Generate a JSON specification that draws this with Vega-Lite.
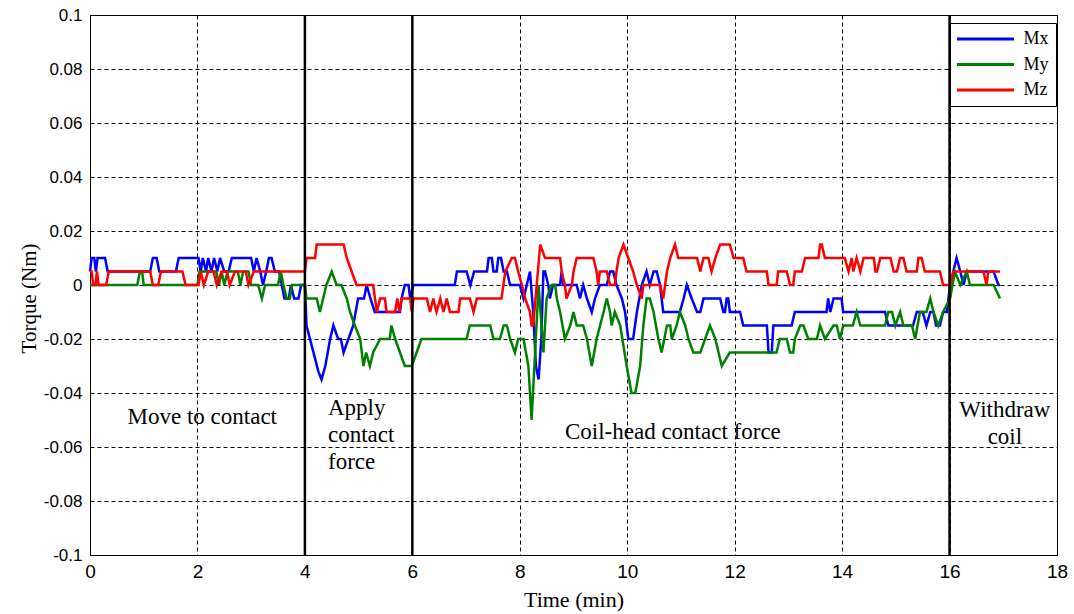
{
  "$schema": "https://vega.github.io/schema/vega-lite/v6.json",
  "width": 967,
  "height": 540,
  "autosize": {"type": "none"},
  "padding": {"left": 90, "top": 15, "right": 17, "bottom": 59},
  "background": "white",
  "config": {
    "view": {"stroke": "black", "strokeWidth": 1},
    "axis": {
      "grid": true,
      "gridColor": "black",
      "gridDash": [4, 3],
      "gridOpacity": 1,
      "gridWidth": 1,
      "domain": false,
      "ticks": false,
      "labelColor": "black",
      "labelOverlap": false,
      "labelFlush": false,
      "titleFont": "Liberation Serif",
      "titleFontWeight": "normal",
      "titleColor": "black"
    }
  },
  "layer": [
    {
      "data": {
        "values": [
          {"t":0,"v":0.005,"s":"Mx"},{"t":0.03,"v":0.01,"s":"Mx"},{"t":0.08,"v":0.01,"s":"Mx"},{"t":0.11,"v":0.005,"s":"Mx"},{"t":0.14,"v":0.01,"s":"Mx"},{"t":0.28,"v":0.01,"s":"Mx"},{"t":0.33,"v":0.005,"s":"Mx"},{"t":1.12,"v":0.005,"s":"Mx"},{"t":1.17,"v":0.01,"s":"Mx"},{"t":1.24,"v":0.01,"s":"Mx"},{"t":1.29,"v":0.005,"s":"Mx"},{"t":1.6,"v":0.005,"s":"Mx"},{"t":1.65,"v":0.01,"s":"Mx"},{"t":2.02,"v":0.01,"s":"Mx"},{"t":2.06,"v":0.005,"s":"Mx"},{"t":2.1,"v":0.01,"s":"Mx"},{"t":2.16,"v":0.005,"s":"Mx"},{"t":2.2,"v":0.01,"s":"Mx"},{"t":2.26,"v":0.005,"s":"Mx"},{"t":2.31,"v":0.01,"s":"Mx"},{"t":2.37,"v":0.005,"s":"Mx"},{"t":2.42,"v":0.01,"s":"Mx"},{"t":2.5,"v":0.005,"s":"Mx"},{"t":2.58,"v":0.005,"s":"Mx"},{"t":2.64,"v":0.01,"s":"Mx"},{"t":3.0,"v":0.01,"s":"Mx"},{"t":3.05,"v":0.005,"s":"Mx"},{"t":3.1,"v":0.01,"s":"Mx"},{"t":3.17,"v":0.005,"s":"Mx"},{"t":3.22,"v":0.0,"s":"Mx"},{"t":3.28,"v":0.005,"s":"Mx"},{"t":3.33,"v":0.01,"s":"Mx"},{"t":3.38,"v":0.01,"s":"Mx"},{"t":3.44,"v":0.005,"s":"Mx"},{"t":3.52,"v":0.005,"s":"Mx"},{"t":3.57,"v":0.0,"s":"Mx"},{"t":3.62,"v":-0.005,"s":"Mx"},{"t":3.7,"v":-0.005,"s":"Mx"},{"t":3.74,"v":0.0,"s":"Mx"},{"t":3.8,"v":-0.005,"s":"Mx"},{"t":3.88,"v":-0.005,"s":"Mx"},{"t":3.93,"v":0.0,"s":"Mx"},{"t":4.0,"v":0.0,"s":"Mx"},{"t":4.03,"v":-0.015,"s":"Mx"},{"t":4.16,"v":-0.025,"s":"Mx"},{"t":4.25,"v":-0.032,"s":"Mx"},{"t":4.31,"v":-0.035,"s":"Mx"},{"t":4.38,"v":-0.03,"s":"Mx"},{"t":4.47,"v":-0.02,"s":"Mx"},{"t":4.53,"v":-0.015,"s":"Mx"},{"t":4.62,"v":-0.02,"s":"Mx"},{"t":4.67,"v":-0.02,"s":"Mx"},{"t":4.72,"v":-0.025,"s":"Mx"},{"t":4.81,"v":-0.02,"s":"Mx"},{"t":4.9,"v":-0.015,"s":"Mx"},{"t":4.99,"v":-0.005,"s":"Mx"},{"t":5.1,"v":-0.005,"s":"Mx"},{"t":5.15,"v":0.0,"s":"Mx"},{"t":5.22,"v":-0.005,"s":"Mx"},{"t":5.3,"v":-0.01,"s":"Mx"},{"t":5.77,"v":-0.01,"s":"Mx"},{"t":5.8,"v":-0.005,"s":"Mx"},{"t":5.86,"v":0.0,"s":"Mx"},{"t":5.93,"v":0.0,"s":"Mx"},{"t":5.96,"v":-0.005,"s":"Mx"},{"t":6.02,"v":0.0,"s":"Mx"},{"t":6.79,"v":0.0,"s":"Mx"},{"t":6.83,"v":0.005,"s":"Mx"},{"t":7.01,"v":0.005,"s":"Mx"},{"t":7.08,"v":0.0,"s":"Mx"},{"t":7.15,"v":0.005,"s":"Mx"},{"t":7.39,"v":0.005,"s":"Mx"},{"t":7.42,"v":0.01,"s":"Mx"},{"t":7.48,"v":0.01,"s":"Mx"},{"t":7.51,"v":0.005,"s":"Mx"},{"t":7.57,"v":0.005,"s":"Mx"},{"t":7.6,"v":0.01,"s":"Mx"},{"t":7.65,"v":0.01,"s":"Mx"},{"t":7.7,"v":0.005,"s":"Mx"},{"t":7.76,"v":0.005,"s":"Mx"},{"t":7.82,"v":0.0,"s":"Mx"},{"t":8.0,"v":0.0,"s":"Mx"},{"t":8.07,"v":-0.005,"s":"Mx"},{"t":8.13,"v":0.0,"s":"Mx"},{"t":8.19,"v":0.005,"s":"Mx"},{"t":8.25,"v":-0.01,"s":"Mx"},{"t":8.3,"v":-0.03,"s":"Mx"},{"t":8.35,"v":-0.035,"s":"Mx"},{"t":8.4,"v":-0.02,"s":"Mx"},{"t":8.44,"v":0.005,"s":"Mx"},{"t":8.47,"v":0.005,"s":"Mx"},{"t":8.53,"v":0.0,"s":"Mx"},{"t":8.56,"v":-0.005,"s":"Mx"},{"t":8.62,"v":0.0,"s":"Mx"},{"t":8.75,"v":0.0,"s":"Mx"},{"t":8.78,"v":0.005,"s":"Mx"},{"t":8.81,"v":0.0,"s":"Mx"},{"t":9.06,"v":0.0,"s":"Mx"},{"t":9.12,"v":-0.005,"s":"Mx"},{"t":9.18,"v":0.0,"s":"Mx"},{"t":9.25,"v":-0.005,"s":"Mx"},{"t":9.34,"v":-0.01,"s":"Mx"},{"t":9.4,"v":-0.005,"s":"Mx"},{"t":9.49,"v":0.0,"s":"Mx"},{"t":9.62,"v":0.0,"s":"Mx"},{"t":9.68,"v":0.005,"s":"Mx"},{"t":9.74,"v":0.005,"s":"Mx"},{"t":9.8,"v":0.0,"s":"Mx"},{"t":9.9,"v":-0.005,"s":"Mx"},{"t":9.96,"v":-0.01,"s":"Mx"},{"t":10.02,"v":-0.02,"s":"Mx"},{"t":10.11,"v":-0.02,"s":"Mx"},{"t":10.18,"v":-0.01,"s":"Mx"},{"t":10.27,"v":0.0,"s":"Mx"},{"t":10.36,"v":0.005,"s":"Mx"},{"t":10.42,"v":0.0,"s":"Mx"},{"t":10.49,"v":0.005,"s":"Mx"},{"t":10.55,"v":0.005,"s":"Mx"},{"t":10.61,"v":0.0,"s":"Mx"},{"t":10.64,"v":-0.005,"s":"Mx"},{"t":10.67,"v":-0.01,"s":"Mx"},{"t":10.98,"v":-0.01,"s":"Mx"},{"t":11.05,"v":-0.005,"s":"Mx"},{"t":11.11,"v":0.0,"s":"Mx"},{"t":11.2,"v":-0.005,"s":"Mx"},{"t":11.3,"v":-0.01,"s":"Mx"},{"t":11.36,"v":-0.01,"s":"Mx"},{"t":11.42,"v":-0.005,"s":"Mx"},{"t":11.73,"v":-0.005,"s":"Mx"},{"t":11.79,"v":-0.01,"s":"Mx"},{"t":11.82,"v":-0.01,"s":"Mx"},{"t":11.85,"v":-0.005,"s":"Mx"},{"t":11.88,"v":-0.005,"s":"Mx"},{"t":11.91,"v":-0.01,"s":"Mx"},{"t":12.1,"v":-0.01,"s":"Mx"},{"t":12.16,"v":-0.015,"s":"Mx"},{"t":12.6,"v":-0.015,"s":"Mx"},{"t":12.63,"v":-0.025,"s":"Mx"},{"t":12.69,"v":-0.025,"s":"Mx"},{"t":12.72,"v":-0.015,"s":"Mx"},{"t":13.06,"v":-0.015,"s":"Mx"},{"t":13.12,"v":-0.01,"s":"Mx"},{"t":13.71,"v":-0.01,"s":"Mx"},{"t":13.74,"v":-0.005,"s":"Mx"},{"t":13.78,"v":-0.01,"s":"Mx"},{"t":13.84,"v":-0.005,"s":"Mx"},{"t":13.99,"v":-0.005,"s":"Mx"},{"t":14.02,"v":-0.01,"s":"Mx"},{"t":14.8,"v":-0.01,"s":"Mx"},{"t":14.86,"v":-0.015,"s":"Mx"},{"t":15.32,"v":-0.015,"s":"Mx"},{"t":15.39,"v":-0.01,"s":"Mx"},{"t":15.5,"v":-0.01,"s":"Mx"},{"t":15.57,"v":-0.015,"s":"Mx"},{"t":15.64,"v":-0.01,"s":"Mx"},{"t":15.7,"v":-0.01,"s":"Mx"},{"t":15.75,"v":-0.015,"s":"Mx"},{"t":15.82,"v":-0.015,"s":"Mx"},{"t":15.88,"v":-0.01,"s":"Mx"},{"t":15.95,"v":-0.01,"s":"Mx"},{"t":15.98,"v":-0.005,"s":"Mx"},{"t":16.01,"v":0.0,"s":"Mx"},{"t":16.07,"v":0.005,"s":"Mx"},{"t":16.13,"v":0.01,"s":"Mx"},{"t":16.2,"v":0.005,"s":"Mx"},{"t":16.26,"v":0.0,"s":"Mx"},{"t":16.32,"v":0.005,"s":"Mx"},{"t":16.82,"v":0.005,"s":"Mx"},{"t":16.91,"v":0.0,"s":"Mx"},{"t":16.94,"v":0.0,"s":"Mx"},

          {"t":0,"v":0.0,"s":"My"},{"t":0.88,"v":0.0,"s":"My"},{"t":0.93,"v":0.005,"s":"My"},{"t":0.97,"v":0.005,"s":"My"},{"t":1.0,"v":0.0,"s":"My"},{"t":2.0,"v":0.0,"s":"My"},{"t":2.04,"v":0.005,"s":"My"},{"t":2.35,"v":0.005,"s":"My"},{"t":2.4,"v":0.0,"s":"My"},{"t":2.45,"v":0.005,"s":"My"},{"t":2.5,"v":0.0,"s":"My"},{"t":2.56,"v":0.005,"s":"My"},{"t":2.75,"v":0.005,"s":"My"},{"t":2.8,"v":0.0,"s":"My"},{"t":2.85,"v":0.005,"s":"My"},{"t":2.95,"v":0.005,"s":"My"},{"t":3.0,"v":0.0,"s":"My"},{"t":3.13,"v":0.0,"s":"My"},{"t":3.2,"v":-0.005,"s":"My"},{"t":3.26,"v":0.0,"s":"My"},{"t":3.5,"v":0.0,"s":"My"},{"t":3.55,"v":0.005,"s":"My"},{"t":3.6,"v":0.0,"s":"My"},{"t":3.66,"v":-0.005,"s":"My"},{"t":3.72,"v":-0.005,"s":"My"},{"t":3.76,"v":0.0,"s":"My"},{"t":4.0,"v":0.0,"s":"My"},{"t":4.03,"v":-0.005,"s":"My"},{"t":4.22,"v":-0.005,"s":"My"},{"t":4.28,"v":-0.01,"s":"My"},{"t":4.34,"v":-0.005,"s":"My"},{"t":4.4,"v":0.0,"s":"My"},{"t":4.5,"v":0.005,"s":"My"},{"t":4.59,"v":0.0,"s":"My"},{"t":4.68,"v":0.0,"s":"My"},{"t":4.78,"v":-0.005,"s":"My"},{"t":4.84,"v":-0.01,"s":"My"},{"t":4.93,"v":-0.015,"s":"My"},{"t":5.03,"v":-0.02,"s":"My"},{"t":5.09,"v":-0.03,"s":"My"},{"t":5.14,"v":-0.025,"s":"My"},{"t":5.21,"v":-0.03,"s":"My"},{"t":5.27,"v":-0.025,"s":"My"},{"t":5.4,"v":-0.02,"s":"My"},{"t":5.58,"v":-0.02,"s":"My"},{"t":5.61,"v":-0.015,"s":"My"},{"t":5.68,"v":-0.02,"s":"My"},{"t":5.77,"v":-0.025,"s":"My"},{"t":5.86,"v":-0.03,"s":"My"},{"t":5.99,"v":-0.03,"s":"My"},{"t":6.08,"v":-0.025,"s":"My"},{"t":6.17,"v":-0.02,"s":"My"},{"t":7.01,"v":-0.02,"s":"My"},{"t":7.07,"v":-0.015,"s":"My"},{"t":7.45,"v":-0.015,"s":"My"},{"t":7.51,"v":-0.02,"s":"My"},{"t":7.63,"v":-0.02,"s":"My"},{"t":7.7,"v":-0.015,"s":"My"},{"t":7.76,"v":-0.015,"s":"My"},{"t":7.82,"v":-0.02,"s":"My"},{"t":7.91,"v":-0.025,"s":"My"},{"t":7.97,"v":-0.02,"s":"My"},{"t":8.07,"v":-0.02,"s":"My"},{"t":8.16,"v":-0.03,"s":"My"},{"t":8.22,"v":-0.05,"s":"My"},{"t":8.35,"v":0.0,"s":"My"},{"t":8.44,"v":-0.025,"s":"My"},{"t":8.5,"v":-0.005,"s":"My"},{"t":8.59,"v":0.0,"s":"My"},{"t":8.66,"v":0.0,"s":"My"},{"t":8.69,"v":-0.005,"s":"My"},{"t":8.75,"v":-0.01,"s":"My"},{"t":8.84,"v":-0.02,"s":"My"},{"t":8.94,"v":-0.015,"s":"My"},{"t":9.0,"v":-0.01,"s":"My"},{"t":9.06,"v":-0.015,"s":"My"},{"t":9.18,"v":-0.015,"s":"My"},{"t":9.25,"v":-0.02,"s":"My"},{"t":9.34,"v":-0.03,"s":"My"},{"t":9.43,"v":-0.02,"s":"My"},{"t":9.56,"v":-0.01,"s":"My"},{"t":9.62,"v":-0.005,"s":"My"},{"t":9.68,"v":-0.01,"s":"My"},{"t":9.71,"v":-0.015,"s":"My"},{"t":9.77,"v":-0.01,"s":"My"},{"t":9.87,"v":-0.015,"s":"My"},{"t":9.99,"v":-0.03,"s":"My"},{"t":10.08,"v":-0.04,"s":"My"},{"t":10.15,"v":-0.04,"s":"My"},{"t":10.24,"v":-0.03,"s":"My"},{"t":10.3,"v":-0.015,"s":"My"},{"t":10.36,"v":-0.005,"s":"My"},{"t":10.42,"v":-0.005,"s":"My"},{"t":10.49,"v":-0.01,"s":"My"},{"t":10.58,"v":-0.02,"s":"My"},{"t":10.64,"v":-0.025,"s":"My"},{"t":10.74,"v":-0.015,"s":"My"},{"t":10.8,"v":-0.015,"s":"My"},{"t":10.83,"v":-0.02,"s":"My"},{"t":10.92,"v":-0.015,"s":"My"},{"t":10.98,"v":-0.01,"s":"My"},{"t":11.08,"v":-0.015,"s":"My"},{"t":11.14,"v":-0.02,"s":"My"},{"t":11.23,"v":-0.025,"s":"My"},{"t":11.36,"v":-0.025,"s":"My"},{"t":11.45,"v":-0.02,"s":"My"},{"t":11.54,"v":-0.015,"s":"My"},{"t":11.64,"v":-0.02,"s":"My"},{"t":11.76,"v":-0.03,"s":"My"},{"t":11.91,"v":-0.025,"s":"My"},{"t":12.78,"v":-0.025,"s":"My"},{"t":12.84,"v":-0.02,"s":"My"},{"t":12.97,"v":-0.02,"s":"My"},{"t":13.03,"v":-0.025,"s":"My"},{"t":13.09,"v":-0.025,"s":"My"},{"t":13.12,"v":-0.02,"s":"My"},{"t":13.22,"v":-0.015,"s":"My"},{"t":13.28,"v":-0.015,"s":"My"},{"t":13.37,"v":-0.02,"s":"My"},{"t":13.53,"v":-0.02,"s":"My"},{"t":13.59,"v":-0.015,"s":"My"},{"t":13.68,"v":-0.02,"s":"My"},{"t":13.84,"v":-0.015,"s":"My"},{"t":13.9,"v":-0.015,"s":"My"},{"t":13.96,"v":-0.02,"s":"My"},{"t":14.02,"v":-0.015,"s":"My"},{"t":14.2,"v":-0.015,"s":"My"},{"t":14.27,"v":-0.01,"s":"My"},{"t":14.34,"v":-0.015,"s":"My"},{"t":14.8,"v":-0.015,"s":"My"},{"t":14.86,"v":-0.01,"s":"My"},{"t":14.93,"v":-0.01,"s":"My"},{"t":14.99,"v":-0.015,"s":"My"},{"t":15.08,"v":-0.01,"s":"My"},{"t":15.14,"v":-0.015,"s":"My"},{"t":15.3,"v":-0.015,"s":"My"},{"t":15.36,"v":-0.02,"s":"My"},{"t":15.45,"v":-0.01,"s":"My"},{"t":15.57,"v":-0.01,"s":"My"},{"t":15.64,"v":-0.005,"s":"My"},{"t":15.7,"v":-0.01,"s":"My"},{"t":15.79,"v":-0.015,"s":"My"},{"t":15.88,"v":-0.01,"s":"My"},{"t":16.01,"v":-0.005,"s":"My"},{"t":16.1,"v":0.005,"s":"My"},{"t":16.2,"v":0.0,"s":"My"},{"t":16.32,"v":0.005,"s":"My"},{"t":16.38,"v":0.0,"s":"My"},{"t":16.82,"v":0.0,"s":"My"},{"t":16.94,"v":-0.005,"s":"My"},

          {"t":0,"v":0.005,"s":"Mz"},{"t":0.03,"v":0.005,"s":"Mz"},{"t":0.06,"v":0.0,"s":"Mz"},{"t":0.1,"v":0.0,"s":"Mz"},{"t":0.13,"v":0.005,"s":"Mz"},{"t":0.16,"v":0.0,"s":"Mz"},{"t":0.3,"v":0.0,"s":"Mz"},{"t":0.35,"v":0.005,"s":"Mz"},{"t":1.12,"v":0.005,"s":"Mz"},{"t":1.17,"v":0.0,"s":"Mz"},{"t":1.27,"v":0.0,"s":"Mz"},{"t":1.32,"v":0.005,"s":"Mz"},{"t":1.72,"v":0.005,"s":"Mz"},{"t":1.78,"v":0.0,"s":"Mz"},{"t":2.02,"v":0.0,"s":"Mz"},{"t":2.06,"v":0.005,"s":"Mz"},{"t":2.12,"v":0.0,"s":"Mz"},{"t":2.2,"v":0.005,"s":"Mz"},{"t":2.3,"v":0.005,"s":"Mz"},{"t":2.36,"v":0.0,"s":"Mz"},{"t":2.45,"v":0.005,"s":"Mz"},{"t":2.55,"v":0.005,"s":"Mz"},{"t":2.6,"v":0.0,"s":"Mz"},{"t":2.7,"v":0.005,"s":"Mz"},{"t":2.9,"v":0.005,"s":"Mz"},{"t":2.95,"v":0.0,"s":"Mz"},{"t":3.05,"v":0.005,"s":"Mz"},{"t":4.0,"v":0.005,"s":"Mz"},{"t":4.03,"v":0.01,"s":"Mz"},{"t":4.19,"v":0.01,"s":"Mz"},{"t":4.22,"v":0.015,"s":"Mz"},{"t":4.72,"v":0.015,"s":"Mz"},{"t":4.78,"v":0.01,"s":"Mz"},{"t":4.87,"v":0.005,"s":"Mz"},{"t":4.96,"v":0.0,"s":"Mz"},{"t":5.27,"v":0.0,"s":"Mz"},{"t":5.34,"v":-0.01,"s":"Mz"},{"t":5.4,"v":-0.005,"s":"Mz"},{"t":5.49,"v":-0.005,"s":"Mz"},{"t":5.52,"v":-0.01,"s":"Mz"},{"t":5.68,"v":-0.01,"s":"Mz"},{"t":5.72,"v":-0.005,"s":"Mz"},{"t":5.76,"v":-0.01,"s":"Mz"},{"t":5.8,"v":-0.005,"s":"Mz"},{"t":5.96,"v":-0.005,"s":"Mz"},{"t":5.99,"v":-0.01,"s":"Mz"},{"t":6.02,"v":-0.005,"s":"Mz"},{"t":6.27,"v":-0.005,"s":"Mz"},{"t":6.33,"v":-0.01,"s":"Mz"},{"t":6.39,"v":-0.005,"s":"Mz"},{"t":6.45,"v":-0.01,"s":"Mz"},{"t":6.52,"v":-0.005,"s":"Mz"},{"t":6.58,"v":-0.01,"s":"Mz"},{"t":6.64,"v":-0.005,"s":"Mz"},{"t":6.7,"v":-0.01,"s":"Mz"},{"t":6.86,"v":-0.01,"s":"Mz"},{"t":6.89,"v":-0.005,"s":"Mz"},{"t":7.07,"v":-0.005,"s":"Mz"},{"t":7.14,"v":-0.01,"s":"Mz"},{"t":7.2,"v":-0.005,"s":"Mz"},{"t":7.66,"v":-0.005,"s":"Mz"},{"t":7.73,"v":0.005,"s":"Mz"},{"t":7.85,"v":0.01,"s":"Mz"},{"t":7.91,"v":0.01,"s":"Mz"},{"t":7.97,"v":0.005,"s":"Mz"},{"t":8.04,"v":0.0,"s":"Mz"},{"t":8.1,"v":-0.005,"s":"Mz"},{"t":8.19,"v":-0.01,"s":"Mz"},{"t":8.22,"v":-0.015,"s":"Mz"},{"t":8.25,"v":-0.015,"s":"Mz"},{"t":8.38,"v":0.015,"s":"Mz"},{"t":8.47,"v":0.01,"s":"Mz"},{"t":8.75,"v":0.01,"s":"Mz"},{"t":8.78,"v":0.005,"s":"Mz"},{"t":8.84,"v":0.0,"s":"Mz"},{"t":8.87,"v":-0.005,"s":"Mz"},{"t":8.97,"v":0.0,"s":"Mz"},{"t":9.0,"v":0.005,"s":"Mz"},{"t":9.06,"v":0.01,"s":"Mz"},{"t":9.37,"v":0.01,"s":"Mz"},{"t":9.43,"v":0.005,"s":"Mz"},{"t":9.46,"v":0.0,"s":"Mz"},{"t":9.49,"v":0.005,"s":"Mz"},{"t":9.62,"v":0.005,"s":"Mz"},{"t":9.68,"v":0.0,"s":"Mz"},{"t":9.77,"v":0.0,"s":"Mz"},{"t":9.8,"v":0.005,"s":"Mz"},{"t":9.84,"v":0.01,"s":"Mz"},{"t":9.93,"v":0.015,"s":"Mz"},{"t":10.02,"v":0.01,"s":"Mz"},{"t":10.11,"v":0.005,"s":"Mz"},{"t":10.18,"v":0.0,"s":"Mz"},{"t":10.27,"v":-0.005,"s":"Mz"},{"t":10.3,"v":0.0,"s":"Mz"},{"t":10.61,"v":0.0,"s":"Mz"},{"t":10.67,"v":-0.005,"s":"Mz"},{"t":10.74,"v":0.005,"s":"Mz"},{"t":10.8,"v":0.01,"s":"Mz"},{"t":10.89,"v":0.015,"s":"Mz"},{"t":10.95,"v":0.01,"s":"Mz"},{"t":11.3,"v":0.01,"s":"Mz"},{"t":11.36,"v":0.005,"s":"Mz"},{"t":11.42,"v":0.01,"s":"Mz"},{"t":11.51,"v":0.01,"s":"Mz"},{"t":11.57,"v":0.005,"s":"Mz"},{"t":11.64,"v":0.01,"s":"Mz"},{"t":11.73,"v":0.015,"s":"Mz"},{"t":11.91,"v":0.015,"s":"Mz"},{"t":11.98,"v":0.01,"s":"Mz"},{"t":12.16,"v":0.01,"s":"Mz"},{"t":12.22,"v":0.005,"s":"Mz"},{"t":12.6,"v":0.005,"s":"Mz"},{"t":12.63,"v":0.0,"s":"Mz"},{"t":12.78,"v":0.0,"s":"Mz"},{"t":12.81,"v":0.005,"s":"Mz"},{"t":12.97,"v":0.005,"s":"Mz"},{"t":13.03,"v":0.0,"s":"Mz"},{"t":13.09,"v":0.0,"s":"Mz"},{"t":13.12,"v":0.005,"s":"Mz"},{"t":13.25,"v":0.005,"s":"Mz"},{"t":13.31,"v":0.01,"s":"Mz"},{"t":13.56,"v":0.01,"s":"Mz"},{"t":13.59,"v":0.015,"s":"Mz"},{"t":13.62,"v":0.015,"s":"Mz"},{"t":13.68,"v":0.01,"s":"Mz"},{"t":14.05,"v":0.01,"s":"Mz"},{"t":14.12,"v":0.005,"s":"Mz"},{"t":14.18,"v":0.01,"s":"Mz"},{"t":14.21,"v":0.005,"s":"Mz"},{"t":14.27,"v":0.01,"s":"Mz"},{"t":14.34,"v":0.005,"s":"Mz"},{"t":14.4,"v":0.01,"s":"Mz"},{"t":14.59,"v":0.01,"s":"Mz"},{"t":14.62,"v":0.005,"s":"Mz"},{"t":14.65,"v":0.005,"s":"Mz"},{"t":14.71,"v":0.01,"s":"Mz"},{"t":14.9,"v":0.01,"s":"Mz"},{"t":14.96,"v":0.005,"s":"Mz"},{"t":15.02,"v":0.005,"s":"Mz"},{"t":15.08,"v":0.01,"s":"Mz"},{"t":15.14,"v":0.01,"s":"Mz"},{"t":15.2,"v":0.005,"s":"Mz"},{"t":15.39,"v":0.005,"s":"Mz"},{"t":15.42,"v":0.01,"s":"Mz"},{"t":15.48,"v":0.01,"s":"Mz"},{"t":15.54,"v":0.005,"s":"Mz"},{"t":15.82,"v":0.005,"s":"Mz"},{"t":15.88,"v":0.0,"s":"Mz"},{"t":16.01,"v":0.0,"s":"Mz"},{"t":16.07,"v":0.005,"s":"Mz"},{"t":16.63,"v":0.005,"s":"Mz"},{"t":16.69,"v":0.0,"s":"Mz"},{"t":16.72,"v":0.005,"s":"Mz"},{"t":16.94,"v":0.005,"s":"Mz"}
        ]
      },
      "mark": {"type": "line", "strokeWidth": 2.5, "strokeJoin": "miter", "strokeCap": "butt"},
      "encoding": {
        "x": {
          "field": "t", "type": "quantitative",
          "scale": {"domain": [0, 18], "nice": false, "zero": false},
          "title": "Time (min)",
          "axis": {
            "values": [0, 2, 4, 6, 8, 10, 12, 14, 16, 18],
            "labelFont": "Liberation Sans Narrow, Liberation Sans",
            "labelFontSize": 19,
            "labelPadding": 7,
            "titleFontSize": 22,
            "titleY": 51,
            "titleBaseline": "alphabetic"
          }
        },
        "y": {
          "field": "v", "type": "quantitative",
          "scale": {"domain": [-0.1, 0.1], "nice": false, "zero": false},
          "title": "Torque (Nm)",
          "axis": {
            "values": [-0.1, -0.08, -0.06, -0.04, -0.02, 0, 0.02, 0.04, 0.06, 0.08, 0.1],
            "labelExpr": "'' + datum.value",
            "labelFont": "Liberation Sans",
            "labelFontSize": 17,
            "labelPadding": 8,
            "titleFontSize": 21,
            "titleX": -55,
            "titleY": 283,
            "titleAngle": 270,
            "titleAlign": "center",
            "titleBaseline": "alphabetic"
          }
        },
        "color": {
          "field": "s", "type": "nominal",
          "scale": {"domain": ["Mx", "My", "Mz"], "range": ["#0000ff", "#008000", "#ff0000"]},
          "legend": {
            "title": null,
            "orient": "none",
            "legendX": 860,
            "legendY": 8,
            "symbolType": "M-4.75,0H4.75",
            "symbolSize": 144,
            "symbolStrokeWidth": 3,
            "symbolOffset": 19.5,
            "labelOffset": 29,
            "labelFont": "Liberation Serif",
            "labelFontSize": 18,
            "labelColor": "black",
            "rowPadding": 7.5,
            "padding": 7,
            "strokeColor": "black",
            "fillColor": "white",
            "cornerRadius": 0
          }
        }
      }
    },
    {
      "data": {"values": [{"t": 4}, {"t": 6}, {"t": 16}]},
      "mark": {"type": "rule", "color": "black", "strokeWidth": 2.5},
      "encoding": {
        "x": {"field": "t", "type": "quantitative", "title": "Time (min)"}
      }
    },
    {
      "data": {
        "values": [
          {"t": 2.09, "v": -0.0515, "label": ["Move to contact"]},
          {"t": 10.85, "v": -0.057, "label": ["Coil-head contact force"]},
          {"t": 17.03, "v": -0.0489, "label": ["Withdraw", "coil"]}
        ]
      },
      "mark": {"type": "text", "font": "Liberation Serif", "fontSize": 23, "color": "black", "align": "center", "baseline": "alphabetic", "lineHeight": 27},
      "encoding": {
        "x": {"field": "t", "type": "quantitative", "title": "Time (min)"},
        "y": {"field": "v", "type": "quantitative", "title": "Torque (Nm)"},
        "text": {"field": "label"}
      }
    },
    {
      "data": {
        "values": [
          {"t": 4.43, "v": -0.0481, "label": ["Apply", "contact", "force"]}
        ]
      },
      "mark": {"type": "text", "font": "Liberation Serif", "fontSize": 23, "color": "black", "align": "left", "baseline": "alphabetic", "lineHeight": 27},
      "encoding": {
        "x": {"field": "t", "type": "quantitative", "title": "Time (min)"},
        "y": {"field": "v", "type": "quantitative", "title": "Torque (Nm)"},
        "text": {"field": "label"}
      }
    }
  ]
}
